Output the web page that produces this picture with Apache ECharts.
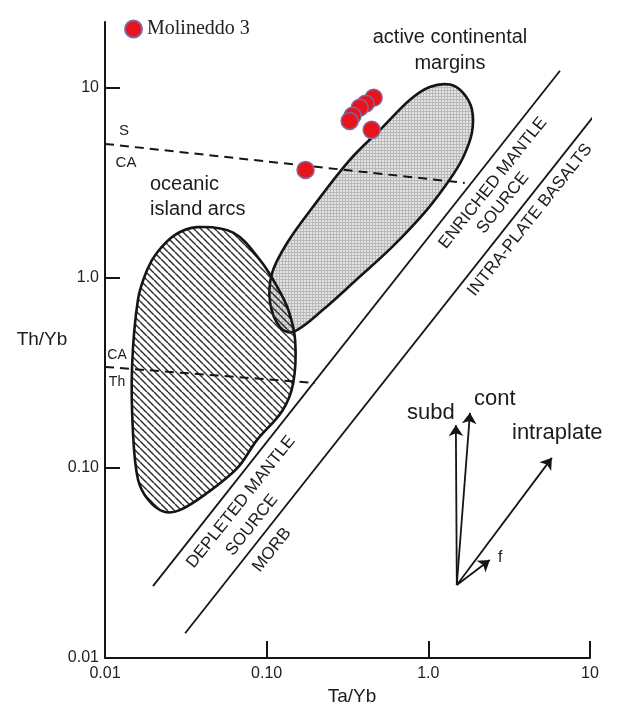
<!DOCTYPE html>
<html>
<head>
<meta charset="utf-8">
<script src="https://cdn.jsdelivr.net/npm/echarts@6/dist/echarts.min.js"></script>
<style>
  html, body { margin: 0; padding: 0; background: #fff; }
  #chart { width: 630px; height: 717px; }
</style>
</head>
<body>
<div id="chart"></div>
<script>
// Molineddo 3 samples
const sampleTaYb = [0.459, 0.409, 0.376, 0.340, 0.326, 0.446, 0.174]
const sampleThYb = [8.86, 8.24, 7.85, 7.13, 6.70, 6.01, 3.70]

// oceanic island arcs field outline
const oiaTaYb = [0.037, 0.062, 0.091, 0.116, 0.136, 0.150, 0.146, 0.125, 0.087, 0.066, 0.043, 0.029, 0.023, 0.0185, 0.016, 0.0149, 0.0147, 0.016, 0.0182, 0.021, 0.027]
const oiaThYb = [1.85, 1.73, 1.24, 0.90, 0.68, 0.47, 0.28, 0.20, 0.14, 0.10, 0.074, 0.060, 0.059, 0.068, 0.087, 0.153, 0.34, 0.77, 1.10, 1.36, 1.68]

// active continental margins field outline
const acmTaYb = [1.36, 1.64, 1.86, 1.86, 1.64, 1.36, 0.98, 0.60, 0.36, 0.223, 0.146, 0.121, 0.105, 0.108, 0.134, 0.193, 0.327, 0.524, 0.77, 1.02]
const acmThYb = [10.4, 9.4, 7.7, 5.8, 4.3, 3.3, 2.28, 1.46, 0.98, 0.68, 0.52, 0.55, 0.74, 1.06, 1.53, 2.36, 4.18, 6.23, 8.65, 10.1]

// mantle array boundaries
const upperLineTaYb = [0.0198, 6.52]
const upperLineThYb = [0.0239, 12.3]
const lowerLineTaYb = [0.0313, 10.7]
const lowerLineThYb = [0.0135, 7.21]

// S / CA and CA / Th dividers
const sCaTaYb = [0.01, 1.68]
const sCaThYb = [5.07, 3.16]
const caThTaYb = [0.01, 0.199]
const caThThYb = [0.340, 0.280]

// vectors
const vectorNames = ['subd', 'cont', 'intraplate', 'f']
const vectorOrigin = [1.50, 0.0242]
const vectorTaYb = [1.48, 1.81, 5.81, 2.40]
const vectorThYb = [0.168, 0.195, 0.113, 0.0328]

const tickValues = [0.01, 0.1, 1, 10]
const tickLabels = ['0.01', '0.10', '1.0', '10']

const sans = 'Liberation Sans, Arial, sans-serif'
const ink = '#151515'

function hatchTile() {
  const c = document.createElement('canvas')
  c.width = c.height = 7
  const g = c.getContext('2d')
  g.strokeStyle = '#2a2a2a'
  g.lineWidth = 1.4
  g.beginPath()
  for (const o of [-7, 0, 7]) { g.moveTo(o, 0); g.lineTo(o + 7, 7) }
  g.stroke()
  return c
}

function gridTile() {
  const c = document.createElement('canvas')
  c.width = c.height = 3
  const g = c.getContext('2d')
  g.fillStyle = '#e4e4e4'
  g.fillRect(0, 0, 3, 3)
  g.fillStyle = '#b9b9b9'
  g.fillRect(0, 0, 3, 1)
  g.fillRect(0, 0, 1, 3)
  return c
}

function tickFormatter(v) {
  const i = tickValues.findIndex(t => Math.abs(Math.log10(v) - Math.log10(t)) < 1e-6)
  return i < 0 ? '' : tickLabels[i]
}

function field(xs, ys, fill, z) {
  return {
    type: 'custom',
    coordinateSystem: 'cartesian2d',
    silent: true,
    clip: false,
    z,
    data: [[xs[0], ys[0]]],
    renderItem: (params, api) => ({
      type: 'polygon',
      shape: { points: xs.map((x, i) => api.coord([x, ys[i]])), smooth: 0.35 },
      style: { fill, stroke: ink, lineWidth: 2.6 }
    })
  }
}

function segment(xs, ys, dashed) {
  return {
    type: 'line',
    silent: true,
    symbol: 'none',
    z: 1,
    data: xs.map((x, i) => [x, ys[i]]),
    lineStyle: { color: ink, width: dashed ? 2 : 1.8, type: dashed ? [9, 6] : 'solid' }
  }
}

function label(text, x, y, size, opts = {}) {
  return {
    type: 'text', x, y, rotation: opts.rotation || 0, z: 20,
    style: {
      text, fill: '#1c1c1c', fontFamily: sans, fontSize: size,
      align: opts.align || 'center', verticalAlign: 'middle',
      lineHeight: opts.lineHeight || size * 1.2
    }
  }
}

const tilt = 51.5 * Math.PI / 180

const chart = echarts.init(document.getElementById('chart'))
chart.setOption({
  animation: false,
  backgroundColor: '#fff',
  grid: { left: 105, right: 40, top: 22, bottom: 59 },
  legend: {
    data: ['Molineddo 3'],
    left: 119, top: 14,
    itemWidth: 17, itemHeight: 17,
    textStyle: { fontFamily: 'Liberation Serif, Times New Roman, serif', fontSize: 20, color: '#222' }
  },
  xAxis: {
    type: 'log', logBase: 10, min: 0.01, max: 10,
    axisLine: { lineStyle: { color: ink, width: 2 } },
    axisTick: { inside: true, length: 17, lineStyle: { color: ink, width: 2 } },
    axisLabel: { formatter: tickFormatter, color: '#222', fontSize: 16, fontFamily: sans, margin: 8 },
    splitLine: { show: false }
  },
  yAxis: {
    type: 'log', logBase: 10, min: 0.01, max: 22.2,
    axisLine: { lineStyle: { color: ink, width: 2 } },
    axisTick: { inside: true, length: 15, customValues: tickValues, lineStyle: { color: ink, width: 2 } },
    axisLabel: { formatter: tickFormatter, color: '#222', fontSize: 16, fontFamily: sans, margin: 6 },
    splitLine: { show: false }
  },
  graphic: [
    label('active continental\nmargins', 450, 50, 20, { lineHeight: 26 }),
    label('oceanic\nisland arcs', 150, 197, 20, { align: 'left', lineHeight: 25 }),
    label('S', 124, 131, 15),
    label('CA', 126, 163, 15),
    label('CA', 117, 355, 14),
    label('Th', 117, 382, 14),
    label('ENRICHED MANTLE', 493, 183, 17, { rotation: tilt }),
    label('SOURCE', 503, 203, 17, { rotation: tilt }),
    label('INTRA-PLATE BASALTS', 530, 220, 17, { rotation: tilt }),
    label('DEPLETED MANTLE', 241, 502, 17, { rotation: tilt }),
    label('SOURCE', 252, 525, 17, { rotation: tilt }),
    label('MORB', 272, 550, 17, { rotation: tilt }),
    label('subd', 407, 413, 22, { align: 'left' }),
    label('cont', 474, 399, 22, { align: 'left' }),
    label('intraplate', 512, 433, 22, { align: 'left' }),
    label('f', 498, 558, 16, { align: 'left' }),
    label('Th/Yb', 42, 340, 19),
    label('Ta/Yb', 352, 697, 19)
  ],
  series: [
    segment(upperLineTaYb, upperLineThYb, false),
    segment(lowerLineTaYb, lowerLineThYb, false),
    field(acmTaYb, acmThYb, { image: gridTile(), repeat: 'repeat' }, 2),
    field(oiaTaYb, oiaThYb, { image: hatchTile(), repeat: 'repeat' }, 3),
    Object.assign(segment(sCaTaYb, sCaThYb, true), { z: 4 }),
    Object.assign(segment(caThTaYb, caThThYb, true), { z: 4 }),
    {
      type: 'lines',
      coordinateSystem: 'cartesian2d',
      silent: true,
      z: 5,
      symbol: ['none', 'arrow'],
      symbolSize: 11,
      lineStyle: { color: ink, width: 1.8, opacity: 1 },
      data: vectorNames.map((name, i) => ({ name, coords: [vectorOrigin, [vectorTaYb[i], vectorThYb[i]]] }))
    },
    {
      name: 'Molineddo 3',
      type: 'scatter',
      z: 10,
      symbolSize: 17,
      itemStyle: { color: '#e8141c', borderColor: '#7b6aa3', borderWidth: 1.5, opacity: 1 },
      data: sampleTaYb.map((x, i) => [x, sampleThYb[i]])
    }
  ]
})
</script>
</body>
</html>
